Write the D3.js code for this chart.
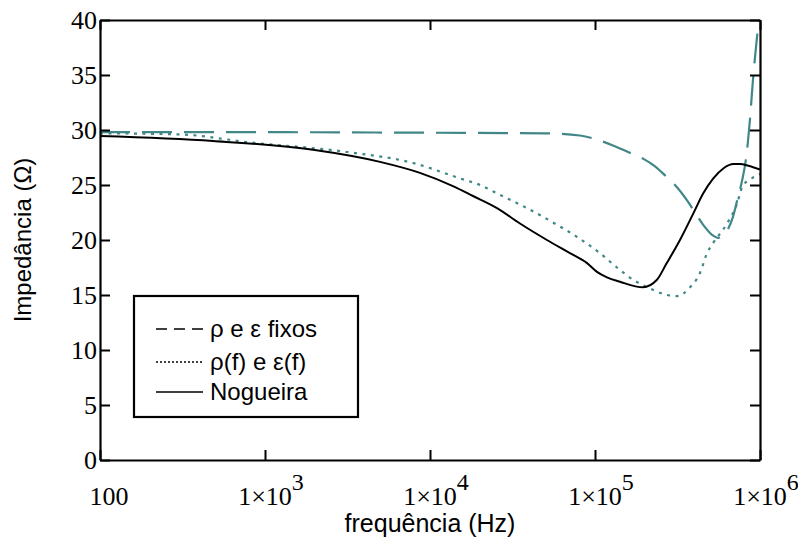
<!DOCTYPE html>
<html>
<head>
<meta charset="utf-8">
<script src="https://cdn.jsdelivr.net/npm/d3@7"></script>
<style>
  html, body { margin: 0; padding: 0; background: #fff; }
  svg { display: block; }
</style>
</head>
<body>
<svg id="chart" width="798" height="543"></svg>
<script>
// Impedance versus frequency for three soil models
const freqFixos = [100, 1e3, 1e4, 50000, 81000, 104000, 128500, 158500, 195400, 231100, 273100, 314000, 361300, 403700, 451600, 519200, 556300, 597000, 639700, 685700, 735600, 778600, 822900, 869600, 907100, 958200, 986000];
const zFixos    = [29.8, 29.8, 29.75, 29.7, 29.5, 29.1, 28.6, 28.0, 27.4, 26.7, 25.7, 24.8, 23.6, 22.5, 21.4, 20.4, 20.2, 20.4, 21.0, 22.1, 23.9, 25.4, 27.4, 31.0, 34.6, 38.4, 40.0];

const freqVar = [100, 305, 778, 3141, 7889, 15200, 20100, 26580, 38700, 55600, 81100, 107200, 135900, 169800, 215400, 273100, 314000, 376800, 432900, 477200, 519200, 631000, 725700, 778600, 845800, 914900, 1e6];
const zVar    = [29.7, 29.6, 28.9, 28.0, 27.0, 25.6, 25.0, 24.1, 22.9, 21.6, 20.1, 18.8, 17.5, 16.4, 15.6, 15.0, 14.9, 15.7, 17.0, 18.8, 19.7, 21.5, 23.3, 24.8, 25.4, 25.7, 26.0];

const freqNog = [100, 484, 1955, 4977, 8690, 13770, 18220, 25470, 35090, 51150, 70490, 89480, 102800, 118200, 141800, 195400, 236600, 271700, 327300, 394600, 453100, 521200, 599300, 689000, 756800, 849000, 1e6];
const zNog    = [29.45, 29.0, 28.2, 27.1, 26.1, 24.9, 24.0, 22.9, 21.5, 20.0, 18.8, 17.9, 17.1, 16.6, 16.2, 15.7, 16.36, 17.88, 20.0, 22.42, 24.24, 25.6, 26.5, 26.9, 26.9, 26.75, 26.4];

const yTicks = [0, 5, 10, 15, 20, 25, 30, 35, 40];
const xTicks = [100, 1e3, 1e4, 1e5, 1e6];
const xTickExp = [null, 3, 4, 5, 6];
const legendLabels = ["\u03c1 e \u03b5 fixos", "\u03c1(f) e \u03b5(f)", "Nogueira"];

const svg = d3.select("#chart");
const plotL = 100, plotR = 760, plotT = 20, plotB = 460;
const teal = "#428787";
const serif = '"Liberation Serif"';
const sans = '"Liberation Sans"';

const x = d3.scaleLog().domain([100, 1e6]).range([plotL, plotR]);
const y = d3.scaleLinear().domain([0, 40]).range([plotB, plotT]);

svg.append("defs").append("clipPath").attr("id", "plotClip")
  .append("rect").attr("x", plotL).attr("y", plotT).attr("width", plotR - plotL).attr("height", plotB - plotT);

const line = d3.line().x(d => x(d[0])).y(d => y(d[1])).curve(d3.curveMonotoneX);
const plot = svg.append("g").attr("clip-path", "url(#plotClip)");

plot.append("path").datum(d3.zip(freqFixos, zFixos))
  .attr("d", line).attr("fill", "none").attr("stroke", teal)
  .attr("stroke-width", 2.2).attr("stroke-dasharray", "30,12");

plot.append("path").datum(d3.zip(freqVar, zVar))
  .attr("d", line).attr("fill", "none").attr("stroke", teal)
  .attr("stroke-width", 2.2).attr("stroke-dasharray", "3,5.5");

plot.append("path").datum(d3.zip(freqNog, zNog))
  .attr("d", line).attr("fill", "none").attr("stroke", "#000")
  .attr("stroke-width", 2);

// Frame with inward ticks on all four sides
const tickLen = 10;
const axisLeft = d3.axisLeft(y).tickValues(yTicks).tickSizeInner(-tickLen).tickSizeOuter(0).tickFormat(d3.format("d"));
const axisRight = d3.axisRight(y).tickValues(yTicks).tickSizeInner(-tickLen).tickSizeOuter(0).tickFormat("");
const axisBottom = d3.axisBottom(x).tickValues(xTicks).tickSizeInner(-tickLen).tickSizeOuter(0).tickFormat("");
const axisTop = d3.axisTop(x).tickValues(xTicks).tickSizeInner(-tickLen).tickSizeOuter(0).tickFormat("");

const gL = svg.append("g").attr("transform", `translate(${plotL},0)`).call(axisLeft);
svg.append("g").attr("transform", `translate(${plotR},0)`).call(axisRight);
svg.append("g").attr("transform", `translate(0,${plotB})`).call(axisBottom);
svg.append("g").attr("transform", `translate(0,${plotT})`).call(axisTop);

svg.selectAll(".domain").attr("stroke", "#000").attr("stroke-width", 2.2);
svg.selectAll(".tick line").attr("stroke", "#000").attr("stroke-width", 2);

gL.selectAll(".tick text")
  .attr("x", -3).attr("dy", "0.33em")
  .style("font-family", serif).style("font-size", "26px").attr("fill", "#000");

// Frequency tick labels: "1×10" centred on the tick with a raised exponent
const xl = svg.append("g").attr("fill", "#000");
xTicks.forEach((v, i) => {
  if (xTickExp[i] === null) {
    xl.append("text").attr("x", x(v) + 9).attr("y", 505)
      .attr("text-anchor", "middle")
      .style("font-family", serif).style("font-size", "26px")
      .text(d3.format("d")(v));
  } else {
    const t = xl.append("text").attr("y", 505)
      .style("font-family", serif).style("font-size", "26px");
    const mant = t.append("tspan").text("1\u00d710");
    t.append("tspan").style("font-size", "24px").attr("dy", -15).text(xTickExp[i]);
    const base = mant.node().getComputedTextLength();
    t.attr("x", x(v) - base / 2);
  }
});

svg.append("text")
  .attr("x", 430).attr("y", 532).attr("text-anchor", "middle")
  .style("font-family", sans).style("font-size", "25px").attr("fill", "#000")
  .text("frequência (Hz)");

svg.append("text")
  .attr("transform", "translate(31,240) rotate(-90)")
  .attr("text-anchor", "middle")
  .style("font-family", sans).style("font-size", "24px").attr("fill", "#000")
  .text("Impedância (\u03a9)");

// Legend
const lg = svg.append("g");
lg.append("rect").attr("x", 134).attr("y", 296).attr("width", 224).attr("height", 121)
  .attr("fill", "#fff").attr("stroke", "#000").attr("stroke-width", 2.2);
const rowY = [329, 362, 392];
const dashes = ["11,7", "2,2", null];
legendLabels.forEach((lab, i) => {
  const l = lg.append("line").attr("x1", 156).attr("x2", 203)
    .attr("y1", rowY[i]).attr("y2", rowY[i]).attr("stroke", "#000").attr("stroke-width", 1.5);
  if (dashes[i]) l.attr("stroke-dasharray", dashes[i]);
  lg.append("text")
    .attr("x", 210).attr("y", rowY[i]).attr("dy", "0.35em")
    .style("font-family", sans).style("font-size", "24px").attr("fill", "#000").text(lab);
});
</script>
</body>
</html>
